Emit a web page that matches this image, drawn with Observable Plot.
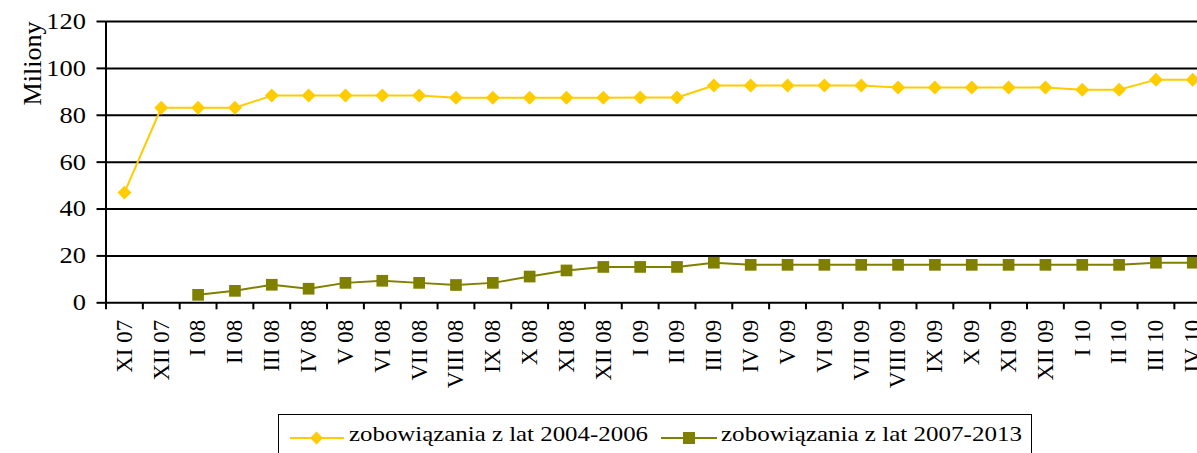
<!DOCTYPE html>
<html>
<head>
<meta charset="utf-8">
<script src="https://cdn.jsdelivr.net/npm/d3@7"></script>
<script src="https://cdn.jsdelivr.net/npm/@observablehq/plot@0.6"></script>
<style>
  html, body { margin: 0; padding: 0; background: #fff; overflow: hidden; width: 1197px; height: 453px; }
  #chart { position: absolute; left: 0; top: 0; width: 1212px; }
  #chart svg { max-width: none !important; width: 1212px; height: 410px; }
  #legend { position: absolute; left: 278px; top: 414px; width: 754px; height: 60px; border: 1.5px solid #000; box-sizing: border-box; font-family: "Liberation Serif", "Times New Roman", Times, serif; font-size: 22px; color: #000; }
  #legend .sw { position: absolute; top: 13px; }
  #legend .lab { position: absolute; top: 8px; white-space: nowrap; transform-origin: 0 50%; display: inline-block; line-height: 1; }
</style>
</head>
<body>
<div id="chart"></div>
<div id="legend">
  <svg class="sw" style="left:10px" width="56" height="20"><line x1="1" y1="10" x2="55" y2="10" stroke="#FFCC00" stroke-width="2"/><path d="M38,10L44.5,3.5L51,10L44.5,16.5Z" transform="translate(-17,0)" fill="#FFCC00"/></svg>
  <span class="lab" id="lab1" style="left:70px">zobowiązania z lat 2004-2006</span>
  <svg class="sw" style="left:381px" width="58" height="20"><line x1="1" y1="10" x2="57" y2="10" stroke="#808000" stroke-width="2"/><rect x="23" y="4" width="12" height="12" fill="#808000"/></svg>
  <span class="lab" id="lab2" style="left:442px">zobowiązania z lat 2007-2013</span>
</div>
<script>
const categories = ["XI 07","XII 07","I 08","II 08","III 08","IV 08","V 08","VI 08","VII 08","VIII 08","IX 08","X 08","XI 08","XII 08","I 09","II 09","III 09","IV 09","V 09","VI 09","VII 09","VIII 09","IX 09","X 09","XI 09","XII 09","I 10","II 10","III 10","IV 10"];
const series2004 = [47, 83.2, 83.2, 83.2, 88.4, 88.4, 88.4, 88.4, 88.4, 87.5, 87.5, 87.5, 87.5, 87.5, 87.6, 87.6, 92.7, 92.7, 92.7, 92.7, 92.7, 91.8, 91.8, 91.8, 91.8, 91.8, 90.9, 90.9, 95.2, 95.2];
const series2007 = [null, null, 3.4, 5.1, 7.7, 6.0, 8.5, 9.4, 8.5, 7.6, 8.5, 11.2, 13.8, 15.3, 15.3, 15.3, 17.1, 16.2, 16.2, 16.2, 16.2, 16.2, 16.2, 16.2, 16.2, 16.2, 16.2, 16.2, 17.1, 17.1];
const yTicks = [0, 20, 40, 60, 80, 100, 120];
const seriesNames = ["zobowiązania z lat 2004-2006", "zobowiązania z lat 2007-2013"];

const data1 = categories.map((c, i) => ({i: i + 0.5, v: series2004[i]}));
const data2 = categories.map((c, i) => ({i: i + 0.5, v: series2007[i]})).filter(d => d.v != null);
const boundaries = d3.range(0, categories.length + 1);
const centers = d3.range(categories.length).map(i => i + 0.5);

const serif = '"Liberation Serif", "Times New Roman", Times, serif';

const chart = Plot.plot({
  width: 1212,
  height: 410,
  marginLeft: 105.5,
  marginRight: 1.3,
  marginTop: 21,
  marginBottom: 107.7,
  x: {domain: [0, categories.length]},
  y: {domain: [0, 120]},
  style: {fontFamily: serif, fontSize: "23px", color: "#000", background: "#fff", overflow: "visible", maxWidth: "none"},
  marks: [
    Plot.ruleY(yTicks, {stroke: "#000", strokeWidth: 2}),
    Plot.ruleX([0], {y1: 0, y2: 120, stroke: "#000", strokeWidth: 2}),
    Plot.axisY(yTicks, {tickSize: 9, tickPadding: 11, strokeWidth: 2, label: null, fill: "#000"}),
    Plot.axisX(boundaries, {tickSize: 7, tickFormat: () => "", strokeWidth: 2, label: null}),
    Plot.axisX(centers, {tickSize: 0, tickPadding: 17, tickRotate: -90, tickFormat: d => categories[Math.floor(d)], label: null, fill: "#000"}),
    Plot.line(data1, {x: "i", y: "v", stroke: "#FFCC00", strokeWidth: 2}),
    Plot.dot(data1, {x: "i", y: "v", symbol: "diamond2", r: 6.3, fill: "#FFCC00", stroke: "none"}),
    Plot.line(data2, {x: "i", y: "v", stroke: "#808000", strokeWidth: 2}),
    Plot.dot(data2, {x: "i", y: "v", symbol: "square", r: 6.6, fill: "#808000", stroke: "none"}),
    Plot.text(["Miliony"], {frameAnchor: "top-left", rotate: -90, dx: -83.5, dy: 42, fontSize: 26, fill: "#000", textAnchor: "middle"})
  ]
});
chart.style.maxWidth = "none";
document.getElementById("chart").appendChild(chart);

// horizontal stretch of the y tick labels like the reference
d3.select(chart).selectAll('g[aria-label="y-axis tick label"] text').each(function() {
  const t = this.getAttribute("transform") || "";
  this.setAttribute("transform", t + " scale(1.15,1)");
});

document.getElementById("lab1").textContent = seriesNames[0];
document.getElementById("lab2").textContent = seriesNames[1];
[["lab1", 299], ["lab2", 301]].forEach(([id, w]) => {
  const el = document.getElementById(id);
  el.style.transform = "none";
  const cw = el.getBoundingClientRect().width;
  el.style.transform = `scaleX(${w / cw})`;
});
</script>
</body>
</html>
